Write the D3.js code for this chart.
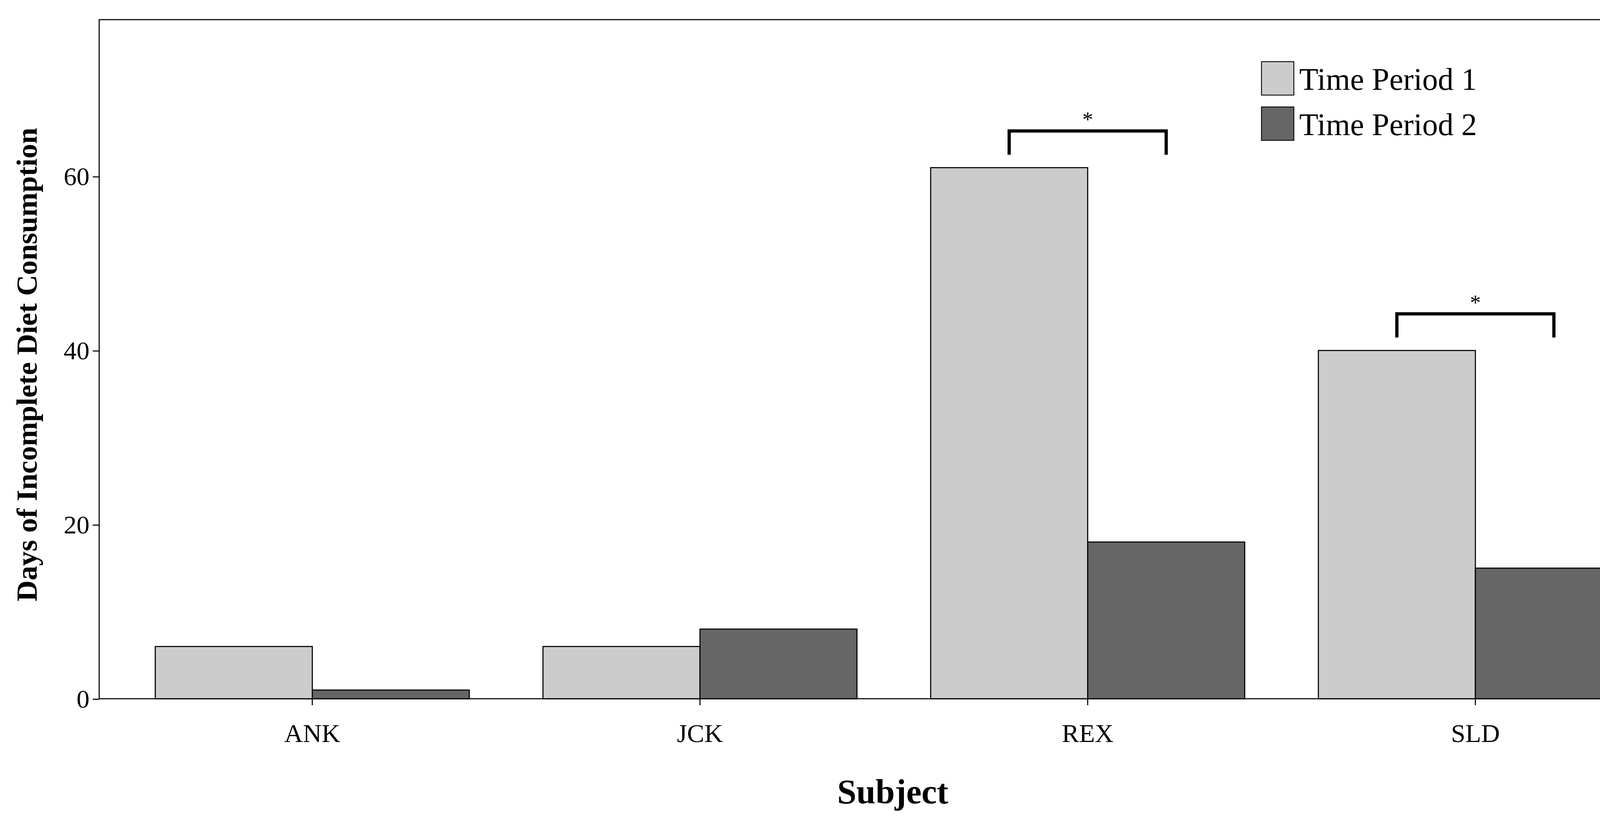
<!DOCTYPE html>
<html>
<head>
<meta charset="utf-8">
<script src="https://cdn.jsdelivr.net/npm/d3@7"></script>
<style>
  body { margin: 0; background: #fff; }
  text { font-family: "Liberation Serif", "Times New Roman", serif; }
</style>
</head>
<body>
<svg id="chart" width="4328" height="2110" viewBox="0 0 1568 764"></svg>
<script>
const subjects = ["ANK", "JCK", "REX", "SLD"];
const periods = ["Time Period 1", "Time Period 2"];
const period1 = [6, 6, 61, 40];
const period2 = [1, 8, 18, 15];
const yTicks = [0, 20, 40, 60];
const colors = ["#cccccc", "#666666"];
// significance brackets: subject + label
const sigMarks = [{ subject: "REX", label: "*" }, { subject: "SLD", label: "*" }];

const svg = d3.select("#chart");
const pLeft = 92, pRight = 1552, pTop = 18, pBottom = 648;

const x = d3.scaleBand().domain(subjects).range([144, 1514]).paddingInner(0.19).paddingOuter(0);
const xs = d3.scaleBand().domain(periods).range([0, x.bandwidth()]);
const y = d3.scaleLinear().domain([0, 78]).range([pBottom, pTop]);

// frame
svg.append("rect").attr("x", pLeft).attr("y", pTop)
  .attr("width", pRight - pLeft).attr("height", pBottom - pTop)
  .attr("fill", "none").attr("stroke", "#000").attr("stroke-width", 1);

// bars
const rows = subjects.map((s, i) => ({ s, vals: [period1[i], period2[i]] }));
const g = svg.append("g");
rows.forEach(r => {
  r.vals.forEach((v, j) => {
    g.append("rect")
      .attr("x", x(r.s) + xs(periods[j]))
      .attr("y", y(v))
      .attr("width", xs.bandwidth())
      .attr("height", y(0) - y(v))
      .attr("fill", colors[j])
      .attr("stroke", "#000").attr("stroke-width", 1);
  });
});

// axes
const yAxis = svg.append("g").attr("transform", `translate(${pLeft},0)`)
  .call(d3.axisLeft(y).tickValues(yTicks).tickSize(6).tickSizeOuter(0));
yAxis.select(".domain").remove();
yAxis.selectAll("text").attr("font-size", 24).attr("fill", "#000")
  .style("font-family", "Liberation Serif");

const xAxis = svg.append("g").attr("transform", `translate(0,${pBottom})`)
  .call(d3.axisBottom(x).tickSize(6).tickSizeOuter(0));
xAxis.select(".domain").remove();
xAxis.selectAll("text").attr("font-size", 24).attr("fill", "#000").attr("dy", "1.3em")
  .style("font-family", "Liberation Serif");

// axis titles
svg.append("text").attr("x", 828).attr("y", 745).attr("text-anchor", "middle")
  .attr("font-size", 32).attr("font-weight", "bold").text("Subject");
svg.append("text").attr("transform", `translate(34,${(pTop + pBottom) / 2 + 5}) rotate(-90)`)
  .attr("text-anchor", "middle").attr("font-size", 27).attr("font-weight", "bold")
  .text("Days of Incomplete Diet Consumption");

// legend
periods.forEach((p, j) => {
  const ly = 57 + j * 42;
  svg.append("rect").attr("x", 1170).attr("y", ly).attr("width", 30).attr("height", 31)
    .attr("fill", colors[j]).attr("stroke", "#000").attr("stroke-width", 0.8);
  svg.append("text").attr("x", 1205).attr("y", ly + 26).attr("font-size", 29).text(p);
});

// significance brackets
sigMarks.forEach(m => {
  const i = subjects.indexOf(m.subject);
  const c1 = x(m.subject) + xs.bandwidth() / 2;
  const c2 = x(m.subject) + xs.bandwidth() * 1.5;
  const by = y(Math.max(period1[i], period2[i])) - 34;
  svg.append("path")
    .attr("d", `M${c1},${by + 22}V${by}H${c2}V${by + 22}`)
    .attr("fill", "none").attr("stroke", "#000").attr("stroke-width", 3);
  svg.append("text").attr("x", (c1 + c2) / 2).attr("y", by - 4).attr("text-anchor", "middle")
    .attr("font-size", 20).text(m.label);
});
</script>
</body>
</html>
